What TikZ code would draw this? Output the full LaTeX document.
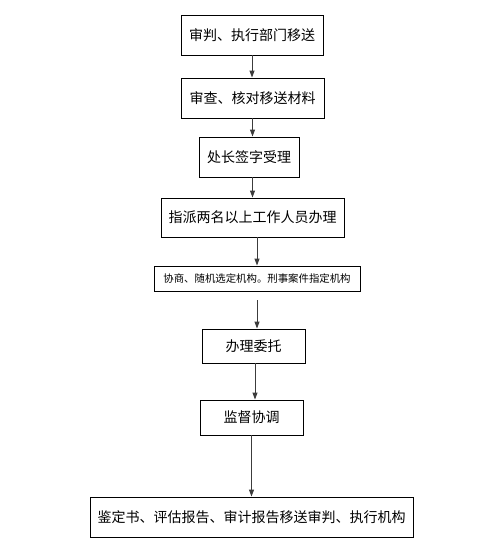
\documentclass[tikz,border=0pt]{standalone}
\usepackage{fontspec}
\usepackage{xcolor}
\usepackage{tikz}
\usetikzlibrary{arrows.meta,positioning,calc}
\newfontfamily\cjk{Noto Sans CJK SC}
\definecolor{clrL}{RGB}{60,60,60}

\begin{document}
\begin{tikzpicture}[x=1pt,y=-1pt,
   fbox/.style={rectangle,draw=black,line width=0.9pt,fill=white,
     minimum height=40pt,align=center,inner sep=0pt,
     font=\cjk\fontsize{14}{16}\selectfont},
   ar/.style={-{Triangle[length=7pt,width=5pt]},line width=1pt,draw=clrL}]

  \useasboundingbox (0,0) rectangle (492,557);

  \node[fbox,minimum width=142pt] (b1) at (252,35) {审判、执行部门移送};
  \node[fbox,minimum width=143pt] (b2) at (252.5,98) {审查、核对移送材料};
  \node[fbox,minimum width=100pt] (b3) at (249,157) {处长签字受理};
  \node[fbox,minimum width=183pt,minimum height=39pt] (b4) at (252.5,217.5)
    {指派两名以上工作人员办理};
  \node[fbox,minimum width=206pt,minimum height=25pt,
    font=\cjk\fontsize{10.4}{12}\selectfont] (b5) at (257,278.5)
    {协商、随机选定机构。刑事案件指定机构};
  \node[fbox,minimum width=103pt,minimum height=34pt] (b6) at (253.5,346) {办理委托};
  \node[fbox,minimum width=103pt,minimum height=35pt] (b7) at (251.5,417.5) {监督协调};
  \node[fbox,minimum width=323pt,font=\cjk\fontsize{14}{16}\selectfont] (b8) at (251.5,517)
    {鉴定书、评估报告、审计报告移送审判、执行机构};

  \draw[ar] (b1.south) -- (b2.north -| b1);
  \draw[ar] (b2.south) -- (b3.north -| b2);
  \draw[ar] (b3.south -| b2) -- (b4.north -| b2);
  \draw[ar] (b4.south -| b5) -- (b5.north);
  \draw[ar] ([yshift=-9pt]b5.south) -- (b6.north -| b5);
  \draw[ar] ([xshift=1.5pt]b6.south) -- ([xshift=1.5pt]b6.south |- b7.north);
  \draw[ar] (b7.south) -- (b8.north -| b7);
\end{tikzpicture}
\end{document}
